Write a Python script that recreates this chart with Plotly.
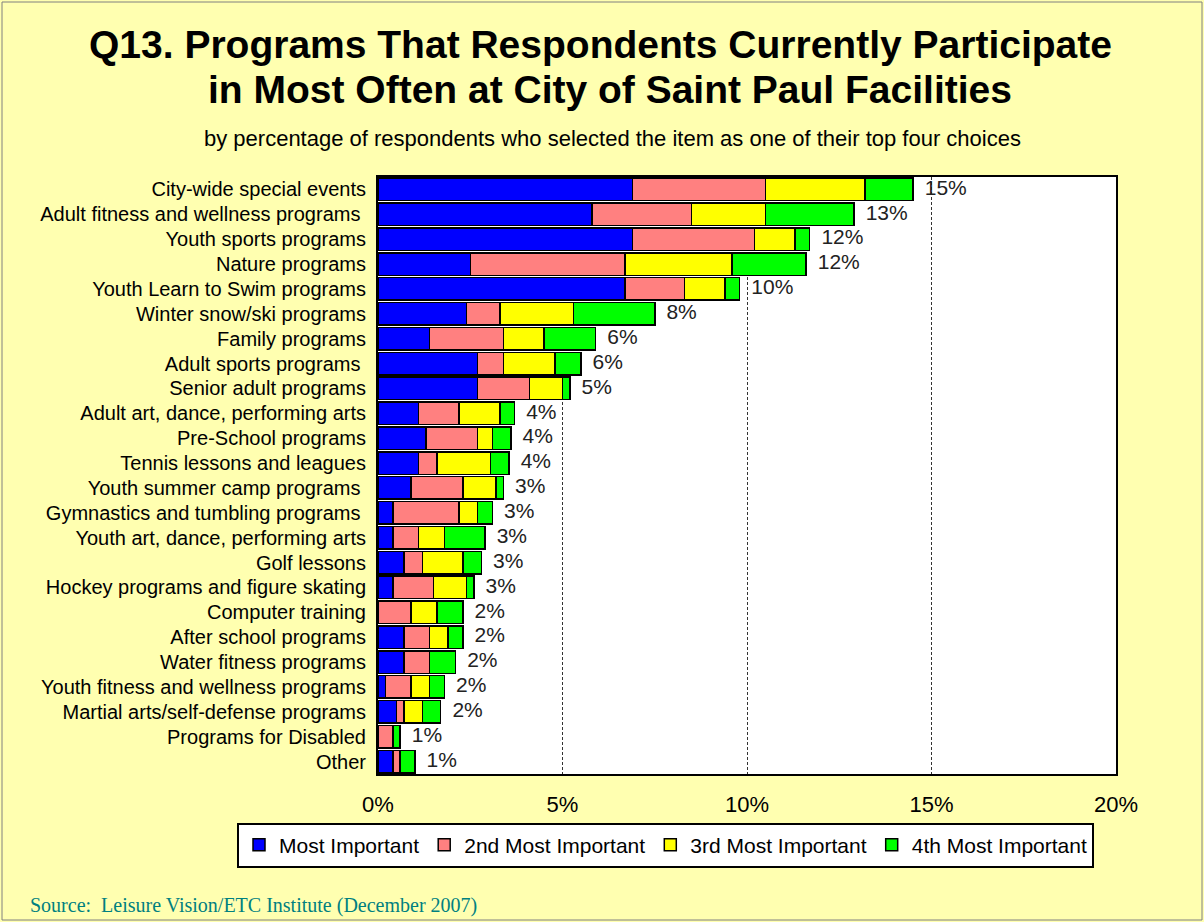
import plotly.graph_objects as go

programas = [
    "City-wide special events",
    "Adult fitness and wellness programs\u00a0",
    "Youth sports programs",
    "Nature programs",
    "Youth Learn to Swim programs",
    "Winter snow/ski programs",
    "Family programs",
    "Adult sports programs\u00a0",
    "Senior adult programs",
    "Adult art, dance, performing arts",
    "Pre-School programs",
    "Tennis lessons and leagues",
    "Youth summer camp programs\u00a0",
    "Gymnastics and tumbling programs\u00a0",
    "Youth art, dance, performing arts",
    "Golf lessons",
    "Hockey programs and figure skating",
    "Computer training",
    "After school programs",
    "Water fitness programs",
    "Youth fitness and wellness programs",
    "Martial arts/self-defense programs",
    "Programs for Disabled",
    "Other",
]

most_important = [6.9, 5.8, 6.9, 2.5, 6.7, 2.4, 1.4, 2.7, 2.7, 1.1, 1.3, 1.1,
                  0.9, 0.4, 0.4, 0.7, 0.4, 0.0, 0.7, 0.7, 0.2, 0.5, 0.0, 0.4]
second = [3.6, 2.7, 3.3, 4.2, 1.6, 0.9, 2.0, 0.7, 1.4, 1.1, 1.4, 0.5,
          1.4, 1.8, 0.7, 0.5, 1.1, 0.9, 0.7, 0.7, 0.7, 0.2, 0.4, 0.2]
third = [2.7, 2.0, 1.1, 2.9, 1.1, 2.0, 1.1, 1.4, 0.9, 1.1, 0.4, 1.45,
         0.9, 0.5, 0.7, 1.1, 0.9, 0.7, 0.5, 0.0, 0.5, 0.5, 0.0, 0.0]
fourth = [1.3, 2.4, 0.4, 2.0, 0.4, 2.2, 1.4, 0.7, 0.2, 0.4, 0.5, 0.5,
          0.2, 0.4, 1.1, 0.5, 0.2, 0.7, 0.4, 0.7, 0.4, 0.5, 0.2, 0.4]
etiquetas_total = ["15%", "13%", "12%", "12%", "10%", "8%", "6%", "6%", "5%",
                   "4%", "4%", "4%", "3%", "3%", "3%", "3%", "3%", "2%", "2%",
                   "2%", "2%", "2%", "1%", "1%"]

series = [
    ("Most Important", most_important, "#0000FF"),
    ("2nd Most Important", second, "#FF8080"),
    ("3rd Most Important", third, "#FFFF00"),
    ("4th Most Important", fourth, "#00FF00"),
]

FUENTE = "Liberation Sans, Arial, sans-serif"
FONDO = "#FFFFB0"

# area del grafico en pixeles (igual que la referencia)
IZQ, DER, ARR, ABA = 378, 1116, 177, 774
def px_x(p):
    return (p - IZQ) / (DER - IZQ)
def px_y(p):
    return (ABA - p) / (ABA - ARR)

fig = go.Figure()

for nombre, valores, color in series:
    fig.add_trace(
        go.Bar(
            y=programas,
            x=valores,
            name=nombre,
            orientation="h",
            marker=dict(color=color, line=dict(color="black", width=1.5)),
        )
    )

totales = [a + b + c + d for a, b, c, d in zip(most_important, second, third, fourth)]
fig.add_trace(
    go.Scatter(
        y=programas,
        x=totales,
        mode="text",
        text=["  " + t for t in etiquetas_total],
        textposition="middle right",
        textfont=dict(size=21, color="#222222", family=FUENTE),
        showlegend=False,
        hoverinfo="skip",
        cliponaxis=False,
    )
)

titulo = [
    "Q13. Programs That Respondents Currently Participate",
    "in Most Often at City of Saint Paul Facilities",
]
subtitulo = "by percentage of respondents who selected the item as one of their top four choices"
fuente_texto = "Source:  Leisure Vision/ETC Institute (December 2007)"

anotaciones = [
    dict(
        text="<b>" + titulo[0] + "</b>",
        xref="paper", yref="paper",
        x=px_x(600), y=px_y(45),
        xanchor="center", yanchor="middle",
        showarrow=False,
        font=dict(size=39, family=FUENTE, color="black"),
    ),
    dict(
        text="<b>" + titulo[1] + "</b>",
        xref="paper", yref="paper",
        x=px_x(610), y=px_y(90),
        xanchor="center", yanchor="middle",
        showarrow=False,
        font=dict(size=39, family=FUENTE, color="black"),
    ),
    dict(
        text=subtitulo,
        xref="paper", yref="paper",
        x=px_x(612), y=px_y(138),
        xanchor="center", yanchor="middle",
        showarrow=False,
        font=dict(size=22, family=FUENTE, color="black"),
    ),
    dict(
        text=fuente_texto,
        xref="paper", yref="paper",
        x=px_x(28), y=px_y(905),
        xanchor="left", yanchor="middle",
        showarrow=False,
        font=dict(size=20, family="Liberation Serif, Times New Roman, serif", color="#008080"),
    ),
]

fig.update_layout(
    barmode="stack",
    bargap=0.1,
    width=1204,
    height=922,
    paper_bgcolor=FONDO,
    plot_bgcolor="white",
    font=dict(family=FUENTE, color="black"),
    margin=dict(l=IZQ, r=1204 - DER, t=ARR, b=922 - ABA, autoexpand=False),
    legend=dict(
        orientation="h",
        xref="paper",
        yref="paper",
        x=px_x(237),
        xanchor="left",
        y=px_y(845),
        yanchor="middle",
        bgcolor="white",
        bordercolor="black",
        borderwidth=2,
        font=dict(size=21, family=FUENTE),
        itemwidth=30,
        traceorder="normal",
    ),
    xaxis=dict(
        range=[0, 20],
        tickvals=[0, 5, 10, 15, 20],
        ticktext=["0%", "5%", "10%", "15%", "20%"],
        tickfont=dict(size=22),
        showgrid=True,
        gridcolor="#333333",
        gridwidth=1,
        griddash="3px,2px",
        showline=True,
        linecolor="black",
        linewidth=2,
        mirror=True,
        ticks="",
        ticklabelstandoff=10,
        zeroline=False,
    ),
    yaxis=dict(
        range=[len(programas) - 0.5, -0.5],
        tickmode="array",
        tickvals=programas,
        ticktext=programas,
        tickfont=dict(size=20),
        showline=True,
        linecolor="black",
        linewidth=2,
        mirror=True,
        ticks="",
        ticklabelstandoff=6,
    ),
    annotations=anotaciones,
    shapes=[
        dict(
            type="rect", xref="paper", yref="paper",
            x0=px_x(2), x1=px_x(1202), y0=px_y(920), y1=px_y(2),
            line=dict(color="#808080", width=1),
            layer="below",
        ),
    ],
)

fig.write_html(
    "out.html",
    config={"displayModeBar": False},
    post_script="document.body.style.margin='0px';",
)
